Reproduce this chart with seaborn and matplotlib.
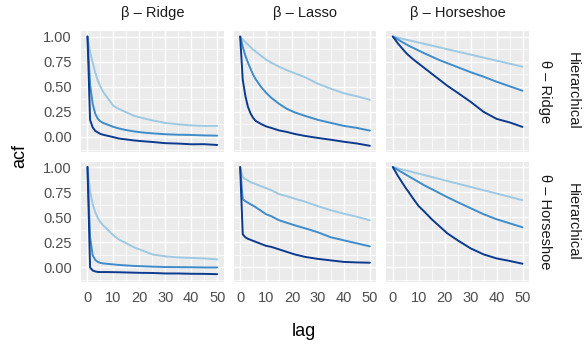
import numpy as np
import pandas as pd
import seaborn as sns
import matplotlib
matplotlib.use("Agg")
import matplotlib.pyplot as plt
from matplotlib.ticker import MultipleLocator

# Autocorrelation of the sampler draws, by prior on beta (columns) and on theta (rows)
LAGS = [0, 1, 2, 3, 4, 5, 6, 8, 10, 12, 15, 18, 21, 25, 30, 35, 40, 45, 50]

BETA_PRIORS = ["β – Ridge", "β – Lasso", "β – Horseshoe"]
THETA_PRIORS = ["Hierarchical\nθ – Ridge", "Hierarchical\nθ – Horseshoe"]
SETTINGS = ["s1", "s2", "s3"]

# theta – Ridge row
RR_S1 = [1.00, 0.85, 0.74, 0.64, 0.56, 0.50, 0.45, 0.38, 0.31, 0.28, 0.245, 0.21, 0.19, 0.165, 0.14, 0.125, 0.115, 0.11, 0.11]
RR_S2 = [1.00, 0.52, 0.33, 0.23, 0.18, 0.155, 0.14, 0.12, 0.10, 0.085, 0.068, 0.055, 0.045, 0.036, 0.027, 0.022, 0.02, 0.015, 0.013]
RR_S3 = [1.00, 0.17, 0.095, 0.06, 0.045, 0.03, 0.022, 0.01, -0.002, -0.015, -0.025, -0.035, -0.042, -0.05, -0.062, -0.066, -0.073, -0.072, -0.08]

LR_S1 = [1.00, 0.97, 0.945, 0.92, 0.895, 0.87, 0.85, 0.81, 0.77, 0.74, 0.70, 0.665, 0.635, 0.595, 0.53, 0.48, 0.435, 0.405, 0.37]
LR_S2 = [1.00, 0.90, 0.81, 0.74, 0.68, 0.62, 0.575, 0.50, 0.44, 0.39, 0.33, 0.28, 0.245, 0.21, 0.17, 0.14, 0.11, 0.09, 0.063]
LR_S3 = [1.00, 0.57, 0.41, 0.30, 0.235, 0.19, 0.16, 0.13, 0.105, 0.09, 0.065, 0.05, 0.03, 0.01, -0.01, -0.028, -0.048, -0.065, -0.088]

HR_S1 = [1.00, 0.994, 0.988, 0.982, 0.976, 0.97, 0.964, 0.952, 0.94, 0.928, 0.91, 0.892, 0.874, 0.85, 0.82, 0.79, 0.76, 0.73, 0.70]
HR_S2 = [1.00, 0.985, 0.97, 0.955, 0.94, 0.925, 0.91, 0.885, 0.86, 0.835, 0.80, 0.765, 0.735, 0.695, 0.645, 0.60, 0.55, 0.505, 0.46]
HR_S3 = [1.00, 0.965, 0.93, 0.90, 0.87, 0.84, 0.815, 0.77, 0.73, 0.69, 0.63, 0.57, 0.51, 0.44, 0.35, 0.25, 0.18, 0.145, 0.10]

# theta – Horseshoe row
RH_S1 = [1.00, 0.76, 0.63, 0.55, 0.49, 0.45, 0.42, 0.37, 0.32, 0.28, 0.24, 0.20, 0.17, 0.13, 0.11, 0.10, 0.095, 0.09, 0.08]
RH_S2 = [1.00, 0.30, 0.12, 0.075, 0.055, 0.045, 0.04, 0.035, 0.03, 0.025, 0.02, 0.015, 0.012, 0.008, 0.004, 0.003, 0.002, 0.0, 0.0]
RH_S3 = [1.00, 0.0, -0.03, -0.04, -0.045, -0.046, -0.046, -0.046, -0.047, -0.048, -0.05, -0.052, -0.054, -0.055, -0.06, -0.06, -0.063, -0.064, -0.067]

LH_S1 = [1.00, 0.90, 0.88, 0.865, 0.85, 0.84, 0.83, 0.81, 0.79, 0.77, 0.73, 0.71, 0.685, 0.655, 0.61, 0.57, 0.535, 0.505, 0.47]
LH_S2 = [1.00, 0.68, 0.66, 0.645, 0.63, 0.615, 0.60, 0.565, 0.53, 0.51, 0.47, 0.445, 0.42, 0.39, 0.35, 0.30, 0.27, 0.24, 0.21]
LH_S3 = [1.00, 0.33, 0.30, 0.285, 0.275, 0.265, 0.255, 0.235, 0.215, 0.205, 0.18, 0.155, 0.13, 0.105, 0.085, 0.07, 0.055, 0.05, 0.047]

HH_S1 = [1.00, 0.993, 0.986, 0.979, 0.972, 0.966, 0.96, 0.947, 0.934, 0.921, 0.901, 0.881, 0.861, 0.835, 0.802, 0.769, 0.736, 0.703, 0.67]
HH_S2 = [1.00, 0.985, 0.97, 0.955, 0.94, 0.925, 0.91, 0.88, 0.85, 0.82, 0.78, 0.74, 0.70, 0.65, 0.59, 0.53, 0.48, 0.44, 0.40]
HH_S3 = [1.00, 0.955, 0.91, 0.87, 0.83, 0.79, 0.755, 0.68, 0.61, 0.56, 0.48, 0.41, 0.34, 0.27, 0.19, 0.13, 0.09, 0.065, 0.037]

PANELS = {
    (THETA_PRIORS[0], BETA_PRIORS[0]): [RR_S1, RR_S2, RR_S3],
    (THETA_PRIORS[0], BETA_PRIORS[1]): [LR_S1, LR_S2, LR_S3],
    (THETA_PRIORS[0], BETA_PRIORS[2]): [HR_S1, HR_S2, HR_S3],
    (THETA_PRIORS[1], BETA_PRIORS[0]): [RH_S1, RH_S2, RH_S3],
    (THETA_PRIORS[1], BETA_PRIORS[1]): [LH_S1, LH_S2, LH_S3],
    (THETA_PRIORS[1], BETA_PRIORS[2]): [HH_S1, HH_S2, HH_S3],
}

rows = []
for (theta, beta), series in PANELS.items():
    for setting, vals in zip(SETTINGS, series):
        for lag, v in zip(LAGS, vals):
            rows.append({"theta": theta, "beta": beta, "setting": setting,
                         "lag": lag, "acf": v})
df = pd.DataFrame(rows)

PALETTE = {"s1": "#9DC9E2", "s2": "#3E8CCB", "s3": "#0B3A8E"}

sns.set_theme(style="darkgrid", rc={
    "axes.facecolor": "#EBEBEB",
    "grid.color": "white",
    "axes.edgecolor": "#EBEBEB",
})
plt.rcParams["font.family"] = ["Liberation Sans", "DejaVu Sans"]

g = sns.relplot(
    data=df, x="lag", y="acf", hue="setting", row="theta", col="beta",
    row_order=THETA_PRIORS, col_order=BETA_PRIORS, hue_order=SETTINGS,
    kind="line", palette=PALETTE, linewidth=1.4, legend=False,
    facet_kws={"sharex": True, "sharey": True, "margin_titles": True},
)
fig = g.figure
fig.set_size_inches(5.84, 3.45)
fig.set_dpi(100)
fig.subplots_adjust(left=0.1387, right=0.9058, top=0.9101, bottom=0.1826,
                    wspace=0.07, hspace=0.083)

g.set_titles(row_template="", col_template="")
for t in list(fig.texts):
    t.remove()
for ax in g.axes.flat:
    for t in list(ax.texts):
        t.remove()

TICK_SIZE = 10.5
for ax in g.axes.flat:
    ax.set_xlim(-2.5, 52.5)
    ax.set_ylim(-0.145, 1.055)
    ax.xaxis.set_major_locator(MultipleLocator(10))
    ax.xaxis.set_minor_locator(MultipleLocator(5))
    ax.yaxis.set_major_locator(MultipleLocator(0.25))
    ax.yaxis.set_minor_locator(MultipleLocator(0.125))
    ax.grid(which="major", color="white", linewidth=1.0)
    ax.grid(which="minor", color="white", linewidth=0.5)
    ax.tick_params(which="both", length=0, labelsize=TICK_SIZE,
                   labelcolor="#4D4D4D")
    ax.tick_params(axis="x", pad=6.5)
    ax.tick_params(axis="y", pad=6.5)
    ax.set_xlabel("")
    ax.set_ylabel("")
    for s in ax.spines.values():
        s.set_visible(False)

for ax in g.axes[:, 0]:
    ax.set_yticks([0, 0.25, 0.5, 0.75, 1.0])
    ax.set_yticklabels(["0.00", "0.25", "0.50", "0.75", "1.00"])
for ax in g.axes[-1, :]:
    ax.set_xticks([0, 10, 20, 30, 40, 50])

# column strips
for ax, label in zip(g.axes[0], BETA_PRIORS):
    ax.text(0.5, 1.15, label, transform=ax.transAxes, ha="center", va="center",
            fontsize=TICK_SIZE, color="#1A1A1A")

# row strips: outer line and inner line placed side by side, read top to bottom
W, H = 584.0, 345.0
for ax, label in zip(g.axes[:, -1], THETA_PRIORS):
    outer, inner = label.split("\n")
    bb = ax.get_position()
    yc = (bb.y0 + bb.y1) / 2
    fig.text(545 / W, yc, inner, rotation=-90, ha="center", va="center",
             fontsize=TICK_SIZE, color="#1A1A1A")
    fig.text(573 / W, yc, outer, rotation=-90, ha="center", va="center",
             fontsize=TICK_SIZE, color="#1A1A1A")

fig.text(20 / W, 1 - 156 / H, "acf", rotation=90, ha="center", va="center",
         fontsize=13, color="black")
fig.text(304 / W, 1 - 331 / H, "lag", ha="center", va="center", fontsize=13,
         color="black")

fig.savefig("out.png", dpi=100)
